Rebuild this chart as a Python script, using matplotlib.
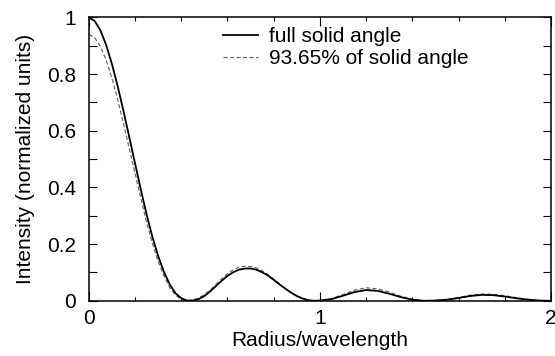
import matplotlib
matplotlib.use("Agg")
import matplotlib.pyplot as plt
from matplotlib.ticker import MultipleLocator

plt.rcParams['font.family'] = ['Liberation Sans', 'DejaVu Sans']

# radius in units of wavelength
radius = [0.000, 0.025, 0.050, 0.075, 0.100, 0.125, 0.150, 0.175, 0.200, 0.225,
          0.250, 0.275, 0.300, 0.325, 0.350, 0.375, 0.400, 0.425, 0.450, 0.475,
          0.500, 0.525, 0.550, 0.575, 0.600, 0.625, 0.650, 0.675, 0.700, 0.725,
          0.750, 0.775, 0.800, 0.825, 0.850, 0.875, 0.900, 0.925, 0.950, 0.975,
          1.000, 1.05, 1.10, 1.15, 1.20, 1.25, 1.30, 1.35, 1.40, 1.45,
          1.50, 1.55, 1.60, 1.65, 1.70, 1.75, 1.80, 1.85, 1.90, 1.95, 2.00]

# intensity, full solid angle
full_angle = [1.000, 0.988, 0.955, 0.903, 0.836, 0.757, 0.670, 0.578, 0.485, 0.393,
              0.305, 0.226, 0.158, 0.102, 0.058, 0.027, 0.009, 0.001, 0.001, 0.006,
              0.017, 0.033, 0.052, 0.071, 0.088, 0.101, 0.110, 0.114, 0.114, 0.110,
              0.101, 0.089, 0.074, 0.058, 0.043, 0.029, 0.017, 0.008, 0.002, 0.000,
              0.001, 0.006, 0.018, 0.031, 0.038, 0.035, 0.025, 0.013, 0.004, 0.000,
              0.001, 0.004, 0.010, 0.017, 0.021, 0.020, 0.015, 0.009, 0.004, 0.001, 0.000]

# intensity, 93.65% of solid angle
part_angle = [0.940, 0.929, 0.898, 0.850, 0.786, 0.710, 0.625, 0.538, 0.450, 0.362,
              0.277, 0.203, 0.139, 0.089, 0.047, 0.020, 0.005, 0.000, 0.003, 0.010,
              0.022, 0.038, 0.058, 0.078, 0.096, 0.110, 0.119, 0.122, 0.121, 0.116,
              0.106, 0.093, 0.077, 0.060, 0.044, 0.029, 0.017, 0.008, 0.002, 0.000,
              0.001, 0.008, 0.022, 0.038, 0.046, 0.042, 0.031, 0.016, 0.005, 0.000,
              0.001, 0.005, 0.012, 0.020, 0.024, 0.023, 0.018, 0.011, 0.005, 0.001, 0.000]

labels = ['full solid angle', '93.65% of solid angle']

fig = plt.figure(figsize=(5.55, 3.56), dpi=100)
ax = fig.add_axes([0.160, 0.155, 0.833, 0.796])

ax.plot(radius, full_angle, color='black', lw=1.3, label=labels[0], zorder=3)
ax.plot(radius, part_angle, color='0.4', lw=0.85, dashes=(3.5, 2), label=labels[1], zorder=2)

ax.set_xlim(0, 2)
ax.set_ylim(0, 1)
ax.xaxis.set_major_locator(MultipleLocator(1))
ax.xaxis.set_minor_locator(MultipleLocator(0.2))
ax.yaxis.set_major_locator(MultipleLocator(0.2))
ax.yaxis.set_minor_locator(MultipleLocator(0.1))
ax.set_yticks([0, 0.2, 0.4, 0.6, 0.8, 1])
ax.set_yticklabels(['0', '0.2', '0.4', '0.6', '0.8', '1'])

ax.tick_params(which='both', direction='in', top=True, right=True, width=0.8, labelsize=15)
ax.tick_params(axis='x', which='major', length=6.5, pad=6)
ax.tick_params(axis='x', which='minor', length=3)
ax.tick_params(axis='y', which='both', length=6, pad=9)
for sp in ax.spines.values():
    sp.set_linewidth(1.1)

ax.set_xlabel('Radius/wavelength', fontsize=15, labelpad=2)
ax.set_ylabel('Intensity (normalized units)', fontsize=15, labelpad=9)

ax.legend(loc='upper left', bbox_to_anchor=(0.255, 1.025), frameon=False, fontsize=15,
          handlelength=1.65, handletextpad=0.55, labelspacing=0.15, borderpad=0.3)

fig.savefig('out.png', dpi=100)
